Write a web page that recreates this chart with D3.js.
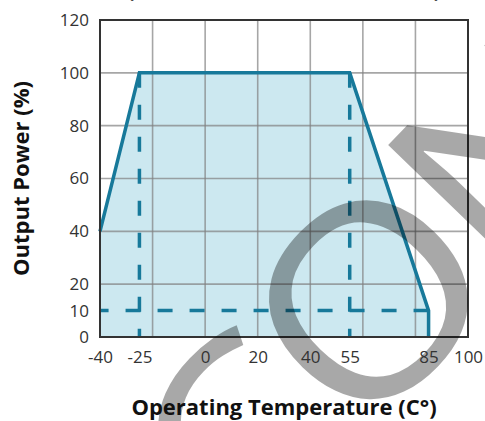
<!DOCTYPE html>
<html lang="en">
<head>
    <meta charset="UTF-8">
    <title>Output Power Derating</title>
    <style>
    body {
        margin: 0;
        background-color: #fff;
    }
    svg text {
        font-family: "Open Sans", "DejaVu Sans", sans-serif;
    }
    </style>
    <script src="https://cdn.jsdelivr.net/npm/d3@7"></script>
</head>
<body>
    <svg width="485" height="421"></svg>
    <script>

        // derating curve
        var curveTemps = [-40, -25, 55, 85, 85];
        var curvePower = [40, 100, 100, 10, 0];

        // dashed guides
        var guideTemps = [-25, 55];
        var minPower = 10;
        var minPowerRange = [-40, 85];

        // axes
        var xTicks = [-40, -25, 0, 20, 40, 55, 85, 100];
        var yTicks = [0, 10, 20, 40, 60, 80, 100, 120];
        var xGrid = [-20, 0, 20, 40, 60, 80];
        var yGrid = [20, 40, 60, 80, 100];

        var svg = d3.select("svg"),
            width = 485,
            height = 421,
            margin = {top: 20, right: 17, bottom: 84, left: 100};

        var x = d3.scaleLinear()
            .domain([-40, 100])
            .range([margin.left, width - margin.right]);

        var y = d3.scaleLinear()
            .domain([0, 120])
            .range([height - margin.bottom, margin.top]);

        var teal = "#17799a";
        var points = curveTemps.map(function(t, i) { return [t, curvePower[i]]; });

        // fill under curve
        var area = d3.area()
            .x(function(d) { return x(d[0]); })
            .y0(y(0))
            .y1(function(d) { return y(d[1]); });

        svg.append("path")
            .datum(points)
            .attr("d", area)
            .attr("fill", "#cce8f0");

        // grid
        svg.append("g")
            .selectAll("line")
            .data(xGrid)
            .join("line")
            .attr("x1", function(d) { return x(d); })
            .attr("x2", function(d) { return x(d); })
            .attr("y1", y(0))
            .attr("y2", y(120))
            .attr("stroke", "#808080")
            .attr("stroke-opacity", 0.7)
            .attr("stroke-width", 1.6);

        svg.append("g")
            .selectAll("line")
            .data(yGrid)
            .join("line")
            .attr("x1", x(-40))
            .attr("x2", x(100))
            .attr("y1", function(d) { return y(d); })
            .attr("y2", function(d) { return y(d); })
            .attr("stroke", "#808080")
            .attr("stroke-opacity", 0.7)
            .attr("stroke-width", 1.6);

        // dashed guides
        var guides = svg.append("g")
            .attr("stroke", teal)
            .attr("stroke-width", 3.5)
            .attr("stroke-dasharray", "15,17");

        guides.selectAll("line.v")
            .data(guideTemps)
            .join("line")
            .attr("class", "v")
            .attr("x1", function(d) { return x(d); })
            .attr("x2", function(d) { return x(d); })
            .attr("y1", y(100))
            .attr("y2", y(0));

        guides.append("line")
            .attr("x1", x(minPowerRange[1]))
            .attr("x2", x(minPowerRange[0]))
            .attr("y1", y(minPower))
            .attr("y2", y(minPower));

        // curve
        svg.append("path")
            .datum(points)
            .attr("d", d3.line()
                .x(function(d) { return x(d[0]); })
                .y(function(d) { return y(d[1]); }))
            .attr("fill", "none")
            .attr("stroke", teal)
            .attr("stroke-width", 3.5)
            .attr("stroke-linejoin", "miter");

        // frame
        svg.append("rect")
            .attr("x", x(-40))
            .attr("y", y(120))
            .attr("width", x(100) - x(-40))
            .attr("height", y(0) - y(120))
            .attr("fill", "none")
            .attr("stroke", "#333")
            .attr("stroke-width", 2);

        // watermark
        svg.append("text")
            .attr("transform", "translate(232,576) rotate(-46) scale(1.1,1)")
            .attr("font-size", 262)
            .attr("dx", "10 -10 -14")
            .attr("dy", "8 -8")
            .attr("fill", "#000")
            .attr("fill-opacity", 0.34)
            .text("CONFIDENTIAL");

        // axes
        var xAxis = svg.append("g")
            .attr("transform", "translate(0," + y(0) + ")")
            .call(d3.axisBottom(x).tickValues(xTicks).tickFormat(String).tickSize(0).tickPadding(14));

        var yAxis = svg.append("g")
            .attr("transform", "translate(" + x(-40) + ",0)")
            .call(d3.axisLeft(y).tickValues(yTicks).tickFormat(String).tickSize(0).tickPadding(11));

        [xAxis, yAxis].forEach(function(g) {
            g.select(".domain").remove();
            g.selectAll("text")
                .attr("font-family", "'Open Sans', sans-serif")
                .attr("font-size", 17)
                .attr("fill", "#333");
        });

        // titles
        svg.append("text")
            .attr("x", (x(-40) + x(100)) / 2)
            .attr("y", -2)
            .attr("text-anchor", "middle")
            .attr("textLength", 312)
            .attr("lengthAdjust", "spacing")
            .attr("font-size", 18)
            .attr("font-weight", "bold")
            .attr("fill", "#111")
            .text("(Natural Convection at Sea Level)");

        svg.append("text")
            .attr("x", (x(-40) + x(100)) / 2)
            .attr("y", 415)
            .attr("text-anchor", "middle")
            .attr("font-size", 22)
            .attr("font-weight", "bold")
            .attr("fill", "#111")
            .text("Operating Temperature (C°)");

        svg.append("text")
            .attr("transform", "translate(29," + (y(0) + y(120)) / 2 + ") rotate(-90)")
            .attr("text-anchor", "middle")
            .attr("font-size", 22)
            .attr("font-weight", "bold")
            .attr("fill", "#111")
            .text("Output Power (%)");
    </script>
</body>
</html>
